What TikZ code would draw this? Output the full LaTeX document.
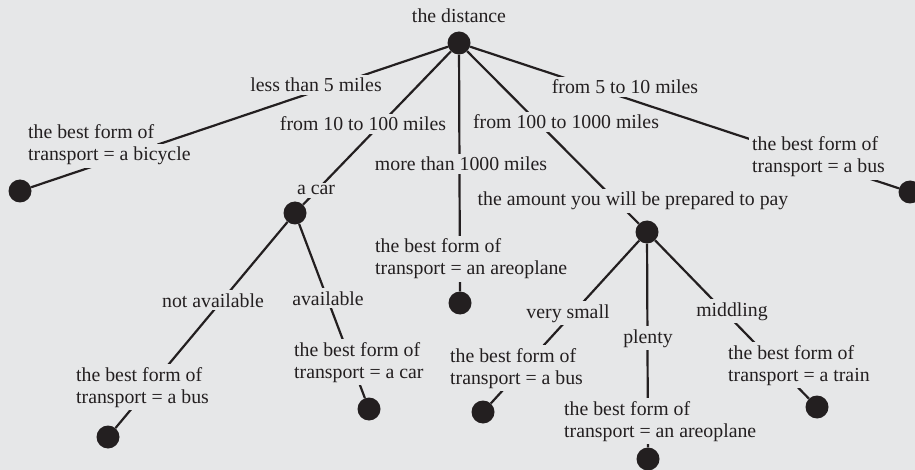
\documentclass[tikz,border=0pt]{standalone}
\usepackage{fontspec}
\setmainfont{Liberation Serif}
\usepackage{xcolor}
\definecolor{bg}{HTML}{E6E7E8}
\definecolor{ink}{HTML}{231F20}
\setlength{\fboxsep}{3pt}
\newcommand\leaftext[2]{\vbox{\baselineskip=22pt\lineskiplimit=-100pt
  \hbox{\colorbox{bg}{\rule[-4pt]{0pt}{17pt}#1}}\hbox{\colorbox{bg}{\rule[-4pt]{0pt}{17pt}#2}}}}
\tikzset{
  dot/.style={circle,fill=ink,inner sep=0pt,minimum size=23pt},
  edge/.style={draw=ink,line width=2.2pt},
  lbl/.style={fill=bg,inner sep=3pt,anchor=base,text=ink},
  leaf/.style={inner sep=0pt,anchor=base west,text=ink},
}
\begin{document}
\begin{tikzpicture}[x=1pt,y=-1pt,font=\fontsize{19.8}{22}\selectfont]
\fill[bg] (0,0) rectangle (915,470);
\useasboundingbox (0,0) rectangle (915,470);
% dots
\node[dot] (root) at (459,43) {};
\node[dot] (bic) at (20,191) {};
\node[dot] (car) at (295,213) {};
\node[dot] (aero) at (460,303) {};
\node[dot] (amt) at (647,232) {};
\node[dot] (bus) at (910,192) {};
\node[dot] (nav) at (108,437) {};
\node[dot] (av) at (369,409) {};
\node[dot] (vs) at (483,412) {};
\node[dot] (pl) at (648,459) {};
\node[dot] (mid) at (817,407) {};
% edges
\draw[edge] (root) -- (bic);
\draw[edge] (root) -- (car);
\draw[edge] (root) -- (aero);
\draw[edge] (root) -- (amt);
\draw[edge] (root) -- (bus);
\draw[edge] (car) -- (nav);
\draw[edge] (car) -- (av);
\draw[edge] (amt) -- (vs);
\draw[edge] (amt) -- (pl);
\draw[edge] (amt) -- (mid);
% labels
\node[lbl] (tdist) at (459,23) {the distance};
\node[lbl] (l5) at (316,92) {less than 5 miles};
\node[lbl] (l10) at (363,131) {from 10 to 100 miles};
\node[lbl] (l1000) at (461,171) {more than 1000 miles};
\node[lbl] (lcar) at (316,195) {a car};
\node[lbl] (l510) at (625,94) {from 5 to 10 miles};
\node[lbl] (l100) at (566,129) {from 100 to 1000 miles};
\node[lbl] (lamt) at (633,206) {the amount you will be prepared to pay};
\node[lbl] (lnav) at (213,307) {not available};
\node[lbl] (lav) at (328,305) {available};
\node[lbl] (lvs) at (568,318) {very small};
\node[lbl] (lpl) at (648,343) {plenty};
\node[lbl] (lmid) at (732,316) {middling};
% leaf texts
\node[leaf] (tbic) at (25,161) {\leaftext{the best form of}{transport = a bicycle}};
\node[leaf] (tbus) at (749,173) {\leaftext{the best form of}{transport = a bus}};
\node[leaf] (taero) at (372,275) {\leaftext{the best form of}{transport = an areoplane}};
\node[leaf] (tnav) at (73,403) {\leaftext{the best form of}{transport = a bus}};
\node[leaf] (tav) at (291,378) {\leaftext{the best form of}{transport = a car}};
\node[leaf] (tvs) at (447,384) {\leaftext{the best form of}{transport = a bus}};
\node[leaf] (tpl) at (561,437) {\leaftext{the best form of}{transport = an areoplane}};
\node[leaf] (tmid) at (725,381) {\leaftext{the best form of}{transport = a train}};
\end{tikzpicture}
\end{document}
